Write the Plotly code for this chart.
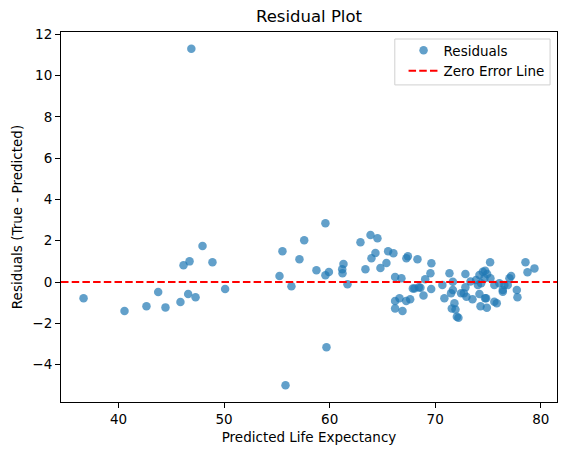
import plotly.graph_objects as go

predicted = [
    36.69, 40.57, 42.65, 43.76, 44.45, 45.87, 46.16, 46.73, 46.60, 47.30,
    47.96, 48.90, 50.10, 46.90,
    59.60, 55.53, 57.59, 57.14, 55.25, 56.38, 58.75, 59.60, 59.93, 61.31,
    61.19, 61.22, 61.69, 62.92, 63.87, 64.53, 63.39, 64.34, 63.96, 64.81,
    65.38, 65.54, 66.04, 67.27, 67.41, 66.20, 66.80, 67.88, 66.20, 66.62,
    67.25, 67.63, 66.20, 66.90, 59.70, 55.82,
    68.32, 69.64, 69.55, 69.05, 68.03, 68.45, 68.89, 69.62, 70.68, 71.35,
    70.87, 71.67, 71.82, 71.57, 71.92, 72.05, 72.20, 71.50, 71.67, 72.45,
    72.71, 72.86, 72.86, 73.34, 72.96, 73.53, 74.04, 74.19, 74.29, 74.82,
    74.89, 74.19, 74.51, 74.73, 74.92, 75.20, 73.87, 74.35, 74.66, 75.23,
    75.60, 75.83, 75.60, 76.08, 76.40, 76.55, 76.87, 77.03, 77.19, 77.73,
    77.79, 78.55, 78.74, 79.40, 74.72, 76.40, 68.60,
]
residuals = [
    -0.79, -1.41, -1.18, -0.49, -1.23, -0.97, 0.81, 1.00, -0.58, -0.74,
    1.75, 0.96, -0.34, 11.30,
    2.85, 1.49, 2.02, 1.10, 0.29, -0.21, 0.57, 0.33, 0.49, 0.87,
    0.62, 0.42, -0.11, 1.93, 2.28, 2.12, 0.62, 1.41, 1.15, 0.68,
    0.92, 1.49, 1.39, 1.15, 1.25, 0.24, 0.18, -0.31, -0.92, -0.79,
    -0.92, -0.84, -1.28, -1.41, -3.16, -5.00,
    1.10, 0.91, 0.42, 0.13, -0.31, -0.26, -0.65, -0.34, -0.15, 0.42,
    -0.79, 0.01, -1.03, -1.28, -1.33, -1.68, -1.73, -0.55, -0.39, -0.55,
    -0.55, 0.39, -0.26, 0.02, -0.71, -0.84, -0.15, -0.58, -1.17, -0.79,
    -1.25, 0.34, 0.50, 0.55, 0.39, 0.96, 0.10, -0.06, 0.18, 0.18,
    -0.96, -1.03, -0.15, -0.06, -0.39, -0.15, -0.15, 0.18, 0.29, -0.39,
    -0.74, 0.96, 0.47, 0.66, -0.79, -0.47, -0.28,
]

x_ticks = [40, 50, 60, 70, 80]
y_ticks = [-4, -2, 0, 2, 4, 6, 8, 10, 12]
y_tick_labels = ["−4", "−2", "0", "2", "4", "6", "8", "10", "12"]

# matplotlib-like 5% margins
xmin, xmax = min(predicted), max(predicted)
ymin, ymax = min(residuals), max(residuals)
xpad = (xmax - xmin) * 0.05
ypad = (ymax - ymin) * 0.05
x_range = [xmin - xpad, xmax + xpad]
y_range = [ymin - ypad, ymax + ypad]

FONT = "DejaVu Sans"

fig = go.Figure()
fig.add_trace(go.Scatter(
    x=predicted, y=residuals, mode="markers", name="Residuals",
    marker=dict(color="#1f77b4", size=8.5, opacity=0.7, line=dict(width=0)),
))
fig.add_trace(go.Scatter(
    x=x_range, y=[0, 0], mode="lines", name="Zero Error Line",
    line=dict(color="red", width=2, dash="7.5px,3.2px"),
))

axis_common = dict(
    showgrid=False, zeroline=False, showline=True, linecolor="black",
    linewidth=1.1, mirror=True, ticks="outside", ticklen=5, tickwidth=1.1,
    tickcolor="black", tickfont=dict(family=FONT, size=13.5, color="black"),
)

fig.update_layout(
    width=565, height=455,
    margin=dict(l=61, r=8, t=32, b=53),
    paper_bgcolor="white", plot_bgcolor="white",
    font=dict(family=FONT, color="black"),
    title=dict(text="Residual Plot", x=0.5, xanchor="center",
               xref="paper", y=1, yref="container", yanchor="top", pad=dict(t=10),
               font=dict(family=FONT, size=16.5, color="black")),
    xaxis=dict(range=x_range, tickvals=x_ticks,
               title=dict(text="Predicted Life Expectancy", standoff=6,
                          font=dict(family=FONT, size=13.5)),
               **axis_common),
    yaxis=dict(range=y_range, tickvals=y_ticks, ticktext=y_tick_labels,
               title=dict(text="Residuals (True - Predicted)", standoff=6,
                          font=dict(family=FONT, size=13.5)),
               **axis_common),
    legend=dict(x=0.985, y=0.992, xanchor="right", yanchor="top",
                bgcolor="rgba(0,0,0,0)", borderwidth=0,
                font=dict(family=FONT, size=13.5),
                itemwidth=30, tracegroupgap=0),
    showlegend=True,
    shapes=[dict(type="rect", xref="paper", yref="paper",
                 x0=0.673, x1=0.986, y0=0.857, y1=0.981,
                 line=dict(color="#d0d0d0", width=1),
                 fillcolor="rgba(255,255,255,0.8)", layer="above")],
)

fig.write_html("out.html")
